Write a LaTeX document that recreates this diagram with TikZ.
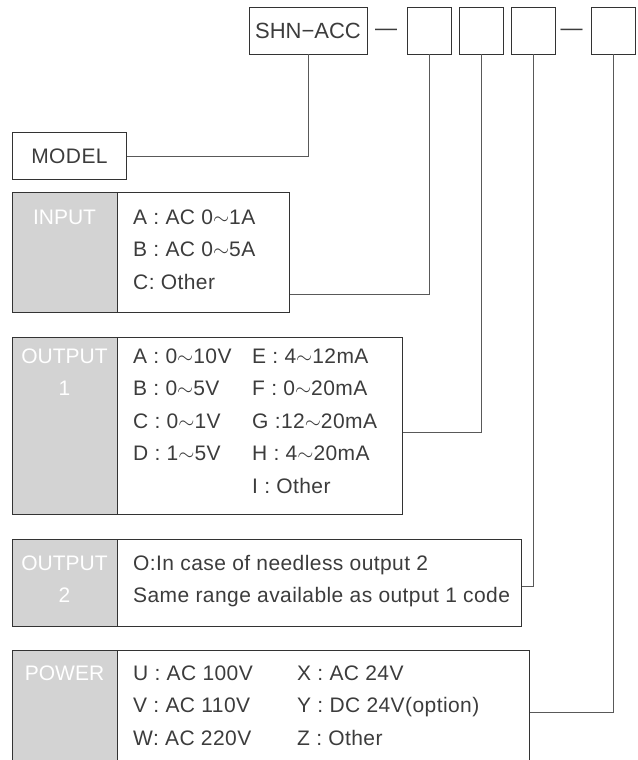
\documentclass[tikz,border=0pt]{standalone}
\usepackage{fontspec}
\setmainfont{Liberation Sans}
\newfontfamily\listfont[LetterSpace=2]{Liberation Sans}
\definecolor{headgray}{RGB}{211,211,211}
\definecolor{inkgray}{RGB}{60,60,60}
\tikzset{
    frame/.style={draw=black!80, line width=0.9pt, rectangle, inner sep=0pt, anchor=north west}, % outline of a code table
    head/.style={frame, fill=headgray}, % grey title column
    code/.style={draw=black!80, line width=0.9pt, minimum height=47pt, inner sep=0pt, text=inkgray, font=\fontsize{22}{26}\selectfont},
    wire/.style={draw=black!65, line width=0.9pt},
    entry/.style={anchor=base west, inner sep=0pt, text=inkgray, font=\listfont\fontsize{21}{32.5}\selectfont},
    title/.style={anchor=base, inner sep=0pt, text=white, font=\fontsize{21}{32.5}\selectfont}
}

\begin{document}
\begin{tikzpicture}[x=1pt, y=-1pt]
    \clip (0,0) rectangle (637,760);

    % model code
    \node[code, minimum width=118pt] (shn) at (308,30.5) {SHN−ACC};
    \foreach \name/\x in {cin/429, cout/481.5, ctwo/533.5, cpow/613.5} {\node[code, minimum width=44pt] (\name) at (\x,30.5) {};}
    \node[inner sep=0pt, text=inkgray, font=\fontsize{22}{26}\selectfont] (dasha) at (386,32) {—};
    \node[inner sep=0pt, text=inkgray, font=\fontsize{22}{26}\selectfont] (dashb) at (571.5,32) {—};

    \node[frame, minimum width=114pt, minimum height=47pt, text=inkgray, font=\listfont\fontsize{21}{26}\selectfont] (model) at (12,132) {MODEL};

    % input
    \node[frame, minimum width=277pt, minimum height=120pt] (inbox) at (12,192) {};
    \node[head, minimum width=105pt, minimum height=120pt] (inhead) at (12,192) {};
    \node[title] (intitle) at (64.5,224) {INPUT};
    \node[entry] (inlist) at (133,224) {\begin{tabular}[t]{@{}l@{}}A : AC 0$\sim$1A\\B : AC 0$\sim$5A\\C: Other\end{tabular}};

    % output 1
    \node[frame, minimum width=390pt, minimum height=177pt] (onebox) at (12,337) {};
    \node[head, minimum width=105pt, minimum height=177pt] (onehead) at (12,337) {};
    \node[title] (onetitle) at (64.5,363) {\begin{tabular}[t]{@{}c@{}}OUTPUT\\1\end{tabular}};
    \node[entry] (onelist) at (133,363) {\begin{tabular}[t]{@{}p{119pt}@{}l@{}}
        A : 0$\sim$10V & E : 4$\sim$12mA\\
        B : 0$\sim$5V & F : 0$\sim$20mA\\
        C : 0$\sim$1V & G :12$\sim$20mA\\
        D : 1$\sim$5V & H : 4$\sim$20mA\\
        & I : Other\end{tabular}};

    % output 2
    \node[frame, minimum width=509pt, minimum height=87pt] (twobox) at (12,539) {};
    \node[head, minimum width=105pt, minimum height=87pt] (twohead) at (12,539) {};
    \node[title] (twotitle) at (64.5,570) {\begin{tabular}[t]{@{}c@{}}OUTPUT\\2\end{tabular}};
    \node[entry] (twolist) at (133,570) {\begin{tabular}[t]{@{}l@{}}O:In case of needless output 2\\Same range available as output 1 code\end{tabular}};

    % power
    \node[frame, minimum width=517pt, minimum height=130pt] (powbox) at (12,650) {};
    \node[head, minimum width=105pt, minimum height=130pt] (powhead) at (12,650) {};
    \node[title] (powtitle) at (64.5,680) {POWER};
    \node[entry] (powlist) at (133,680) {\begin{tabular}[t]{@{}p{164pt}@{}l@{}}
        U : AC 100V & X : AC 24V\\
        V : AC 110V & Y : DC 24V(option)\\
        W: AC 220V & Z : Other\end{tabular}};

    % connectors
    \draw[wire] (model.east) -| (shn.south);
    \draw[wire] (inbox.east |- 0,294) -| (cin.south);
    \draw[wire] (onebox.east |- 0,432) -| (cout.south);
    \draw[wire] (twobox.east |- 0,586) -| (ctwo.south);
    \draw[wire] (powbox.east |- 0,712) -| (cpow.south);
\end{tikzpicture}
\end{document}
